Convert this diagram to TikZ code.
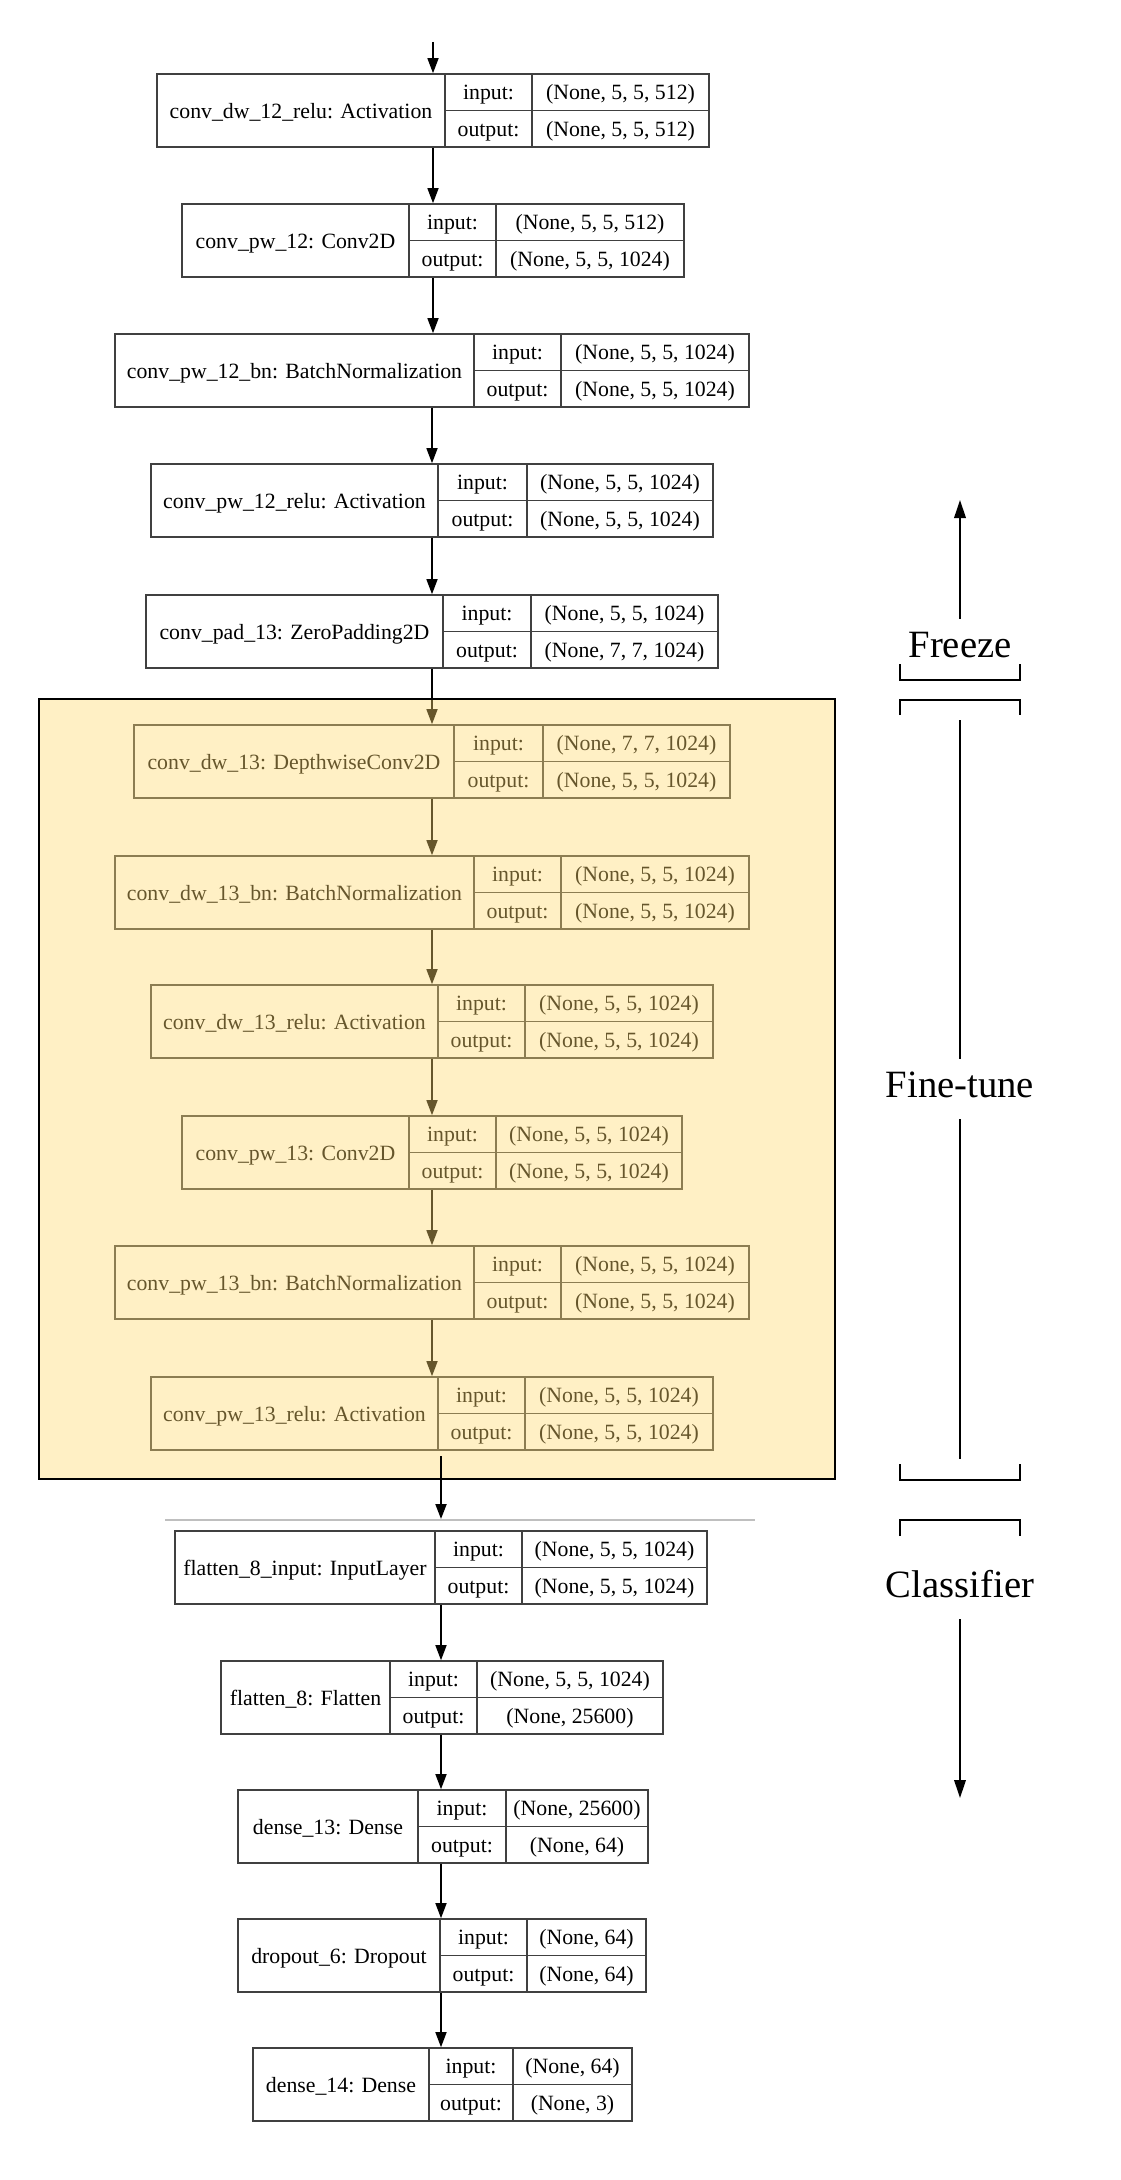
\documentclass[tikz,border=0pt]{standalone}
\usepackage{fontspec}
\setmainfont{Liberation Serif}
\usetikzlibrary{arrows.meta,fit}

\definecolor{tuneyellow}{RGB}{255,217,110}

\tikzset{
  lbox/.style={draw=black!75, line width=0.032cm, inner sep=0pt},
  lline/.style={draw=black!75, line width=0.032cm},
  ltext/.style={font=\fontsize{12.4}{14}\selectfont, inner sep=0pt, anchor=base},
  arr/.style={-{Triangle[length=0.3cm,width=0.22cm]}, line width=0.03cm, black},
  tag/.style={font=\fontsize{22}{26}\selectfont, inner sep=0pt, text height=0.76cm, text depth=0.44cm, anchor=base},
  side/.style={line width=0.04cm, black},
  sidearr/.style={side, -{Triangle[length=0.36cm,width=0.23cm]}},
  finetune/.style={draw=black, line width=0.05cm, fill=tuneyellow, fill opacity=0.4},
}

\newcommand{\layer}[9]{%
  \node[lbox, fit={(#1,#2) (#3,#2+73)}] (#6) {};
  \draw[lline] (#4,#2) -- (#4,#2+73) (#5,#2) -- (#5,#2+73) (#4,#2+36.5) -- (#3,#2+36.5);
  \node[ltext] (#6-n) at ({(#1+#4)/2},#2+44) {#7};
  \node[ltext] (#6-i) at ({(#4+#5)/2},#2+25.5) {input:};
  \node[ltext] (#6-o) at ({(#4+#5)/2},#2+62) {output:};
  \node[ltext] (#6-iv) at ({(#5+#3)/2},#2+25.5) {#8};
  \node[ltext] (#6-ov) at ({(#5+#3)/2},#2+62) {#9};
}

\begin{document}
\begin{tikzpicture}[x=0.02cm, y=-0.02cm]
  \useasboundingbox (0,0) rectangle (1120,2180);

  \layer{157}{74}{709}{445}{532}{dwrelu12}{conv\_dw\_12\_relu: Activation}{(None, 5, 5, 512)}{(None, 5, 5, 512)}
  \layer{182}{204}{684}{409}{496}{pw12}{conv\_pw\_12: Conv2D}{(None, 5, 5, 512)}{(None, 5, 5, 1024)}
  \layer{115}{334}{749}{474}{561}{pwbn12}{conv\_pw\_12\_bn: BatchNormalization}{(None, 5, 5, 1024)}{(None, 5, 5, 1024)}
  \layer{151}{464}{713}{438}{527}{pwrelu12}{conv\_pw\_12\_relu: Activation}{(None, 5, 5, 1024)}{(None, 5, 5, 1024)}
  \layer{146}{595}{718}{443}{531}{pad13}{conv\_pad\_13: ZeroPadding2D}{(None, 5, 5, 1024)}{(None, 7, 7, 1024)}
  \layer{134}{725}{730}{454}{543}{dw13}{conv\_dw\_13: DepthwiseConv2D}{(None, 7, 7, 1024)}{(None, 5, 5, 1024)}
  \layer{115}{856}{749}{474}{561}{dwbn13}{conv\_dw\_13\_bn: BatchNormalization}{(None, 5, 5, 1024)}{(None, 5, 5, 1024)}
  \layer{151}{985}{713}{438}{525}{dwrelu13}{conv\_dw\_13\_relu: Activation}{(None, 5, 5, 1024)}{(None, 5, 5, 1024)}
  \layer{182}{1116}{682}{409}{496}{pw13}{conv\_pw\_13: Conv2D}{(None, 5, 5, 1024)}{(None, 5, 5, 1024)}
  \layer{115}{1246}{749}{474}{561}{pwbn13}{conv\_pw\_13\_bn: BatchNormalization}{(None, 5, 5, 1024)}{(None, 5, 5, 1024)}
  \layer{151}{1377}{713}{438}{525}{pwrelu13}{conv\_pw\_13\_relu: Activation}{(None, 5, 5, 1024)}{(None, 5, 5, 1024)}

  \coordinate (top) at (433,42);
  \draw[arr] (top) -- (top |- dwrelu12.north);
  \draw[arr] (dwrelu12.south) -- (dwrelu12.south |- pw12.north);
  \draw[arr] (pw12.south) -- (pw12.south |- pwbn12.north);
  \draw[arr] (pwbn12.south) -- (pwbn12.south |- pwrelu12.north);
  \draw[arr] (pwrelu12.south) -- (pwrelu12.south |- pad13.north);
  \draw[arr] (pad13.south) -- (pad13.south |- dw13.north);
  \draw[arr] (dw13.south) -- (dw13.south |- dwbn13.north);
  \draw[arr] (dwbn13.south) -- (dwbn13.south |- dwrelu13.north);
  \draw[arr] (dwrelu13.south) -- (dwrelu13.south |- pw13.north);
  \draw[arr] (pw13.south) -- (pw13.south |- pwbn13.north);
  \draw[arr] (pwbn13.south) -- (pwbn13.south |- pwrelu13.north);

  \draw[finetune] (39,699) rectangle (835,1479);

  \coordinate (cut) at (441,1456);
  \coordinate (sepl) at (165,1520);
  \coordinate (sepr) at (755,1520);
  \coordinate (sep) at (441,1519);
  \draw[black!25, line width=0.03cm] (sepl) -- (sepr);
  \draw[arr, line width=0.04cm] (cut) -- (sep);

  \layer{175}{1531}{707}{435}{522}{flatin}{flatten\_8\_input: InputLayer}{(None, 5, 5, 1024)}{(None, 5, 5, 1024)}
  \layer{221}{1661}{663}{390}{477}{flat}{flatten\_8: Flatten}{(None, 5, 5, 1024)}{(None, 25600)}
  \layer{238}{1790}{648}{418}{506}{dense13}{dense\_13: Dense}{(None, 25600)}{(None, 64)}
  \layer{238}{1919}{646}{440}{527}{drop6}{dropout\_6: Dropout}{(None, 64)}{(None, 64)}
  \layer{253}{2048}{632}{429}{513}{dense14}{dense\_14: Dense}{(None, 64)}{(None, 3)}
  \draw[arr] (flatin.south) -- (flatin.south |- flat.north);
  \draw[arr] (flatin.south |- flat.south) -- (flatin.south |- dense13.north);
  \draw[arr] (flatin.south |- dense13.south) -- (flatin.south |- drop6.north);
  \draw[arr] (flatin.south |- drop6.south) -- (flatin.south |- dense14.north);

  \node[tag] (freeze) at (960,657) {Freeze};
  \node[tag] (tune) at (960,1097) {Fine-tune};
  \node[tag] (cls) at (960,1597) {Classifier};
  \coordinate (freezeend) at (960,500);
  \coordinate (tunetop) at (960,720);
  \coordinate (tunebot) at (960,1459);
  \coordinate (clsend) at (960,1798);
  \draw[sidearr] (freeze.north) -- (freezeend);
  \draw[side] (tunetop) -- (tune.north);
  \draw[side] (tune.south) -- (tunebot);
  \draw[sidearr] (cls.south) -- (clsend);
  \draw[side] (900,664) -- (900,680) -- (1020,680) -- (1020,664);
  \draw[side] (900,715) -- (900,700) -- (1020,700) -- (1020,715);
  \draw[side] (900,1464) -- (900,1480) -- (1020,1480) -- (1020,1464);
  \draw[side] (900,1536) -- (900,1520) -- (1020,1520) -- (1020,1536);
\end{tikzpicture}
\end{document}
